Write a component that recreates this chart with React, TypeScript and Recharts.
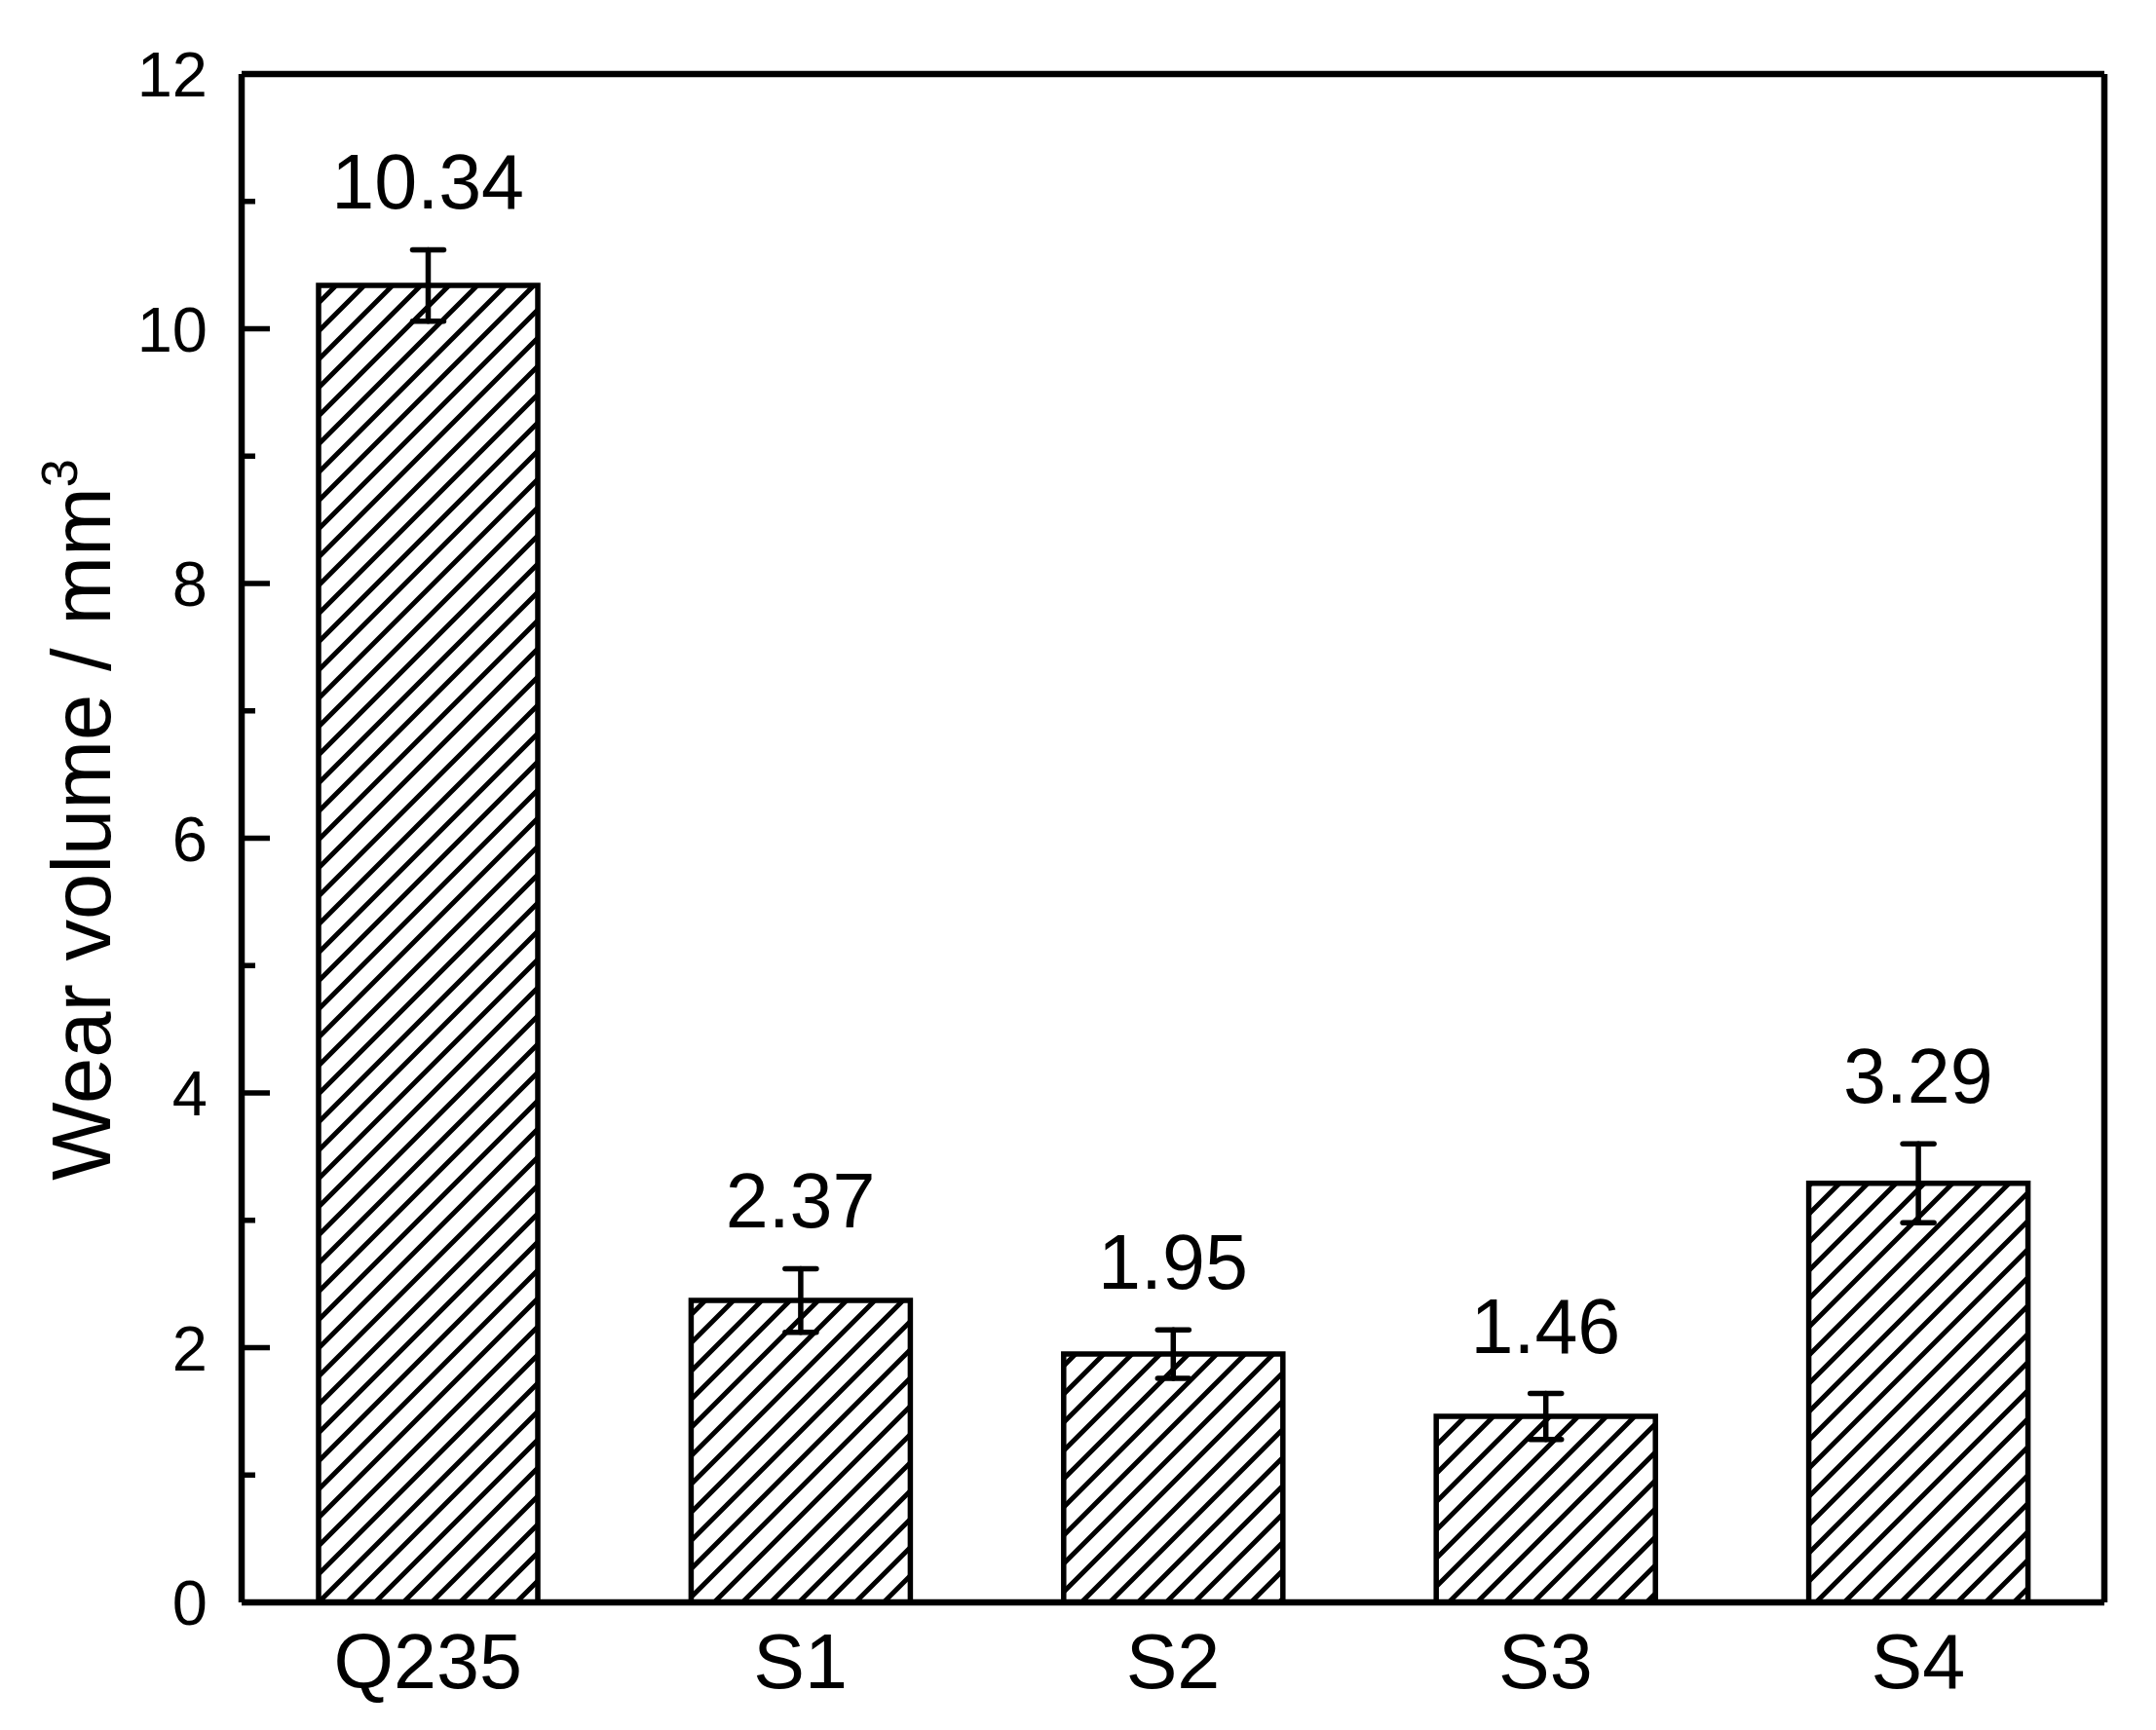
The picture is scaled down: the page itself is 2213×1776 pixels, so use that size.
import React from 'react';
import { ComposedChart, Bar, Line, XAxis, YAxis, ErrorBar, LabelList, Label } from 'recharts';

// wear test results
const samples = ['Q235', 'S1', 'S2', 'S3', 'S4'];
const wearVolume = [10.34, 2.37, 1.95, 1.46, 3.29];
const wearError = [0.28, 0.25, 0.19, 0.18, 0.31];
const yTicks = [0, 1, 2, 3, 4, 5, 6, 7, 8, 9, 10, 11, 12];

const data = samples.map((name, i) => ({
  name,
  value: wearVolume[i],
  err: wearError[i],
  top: wearVolume[i] + wearError[i],
}));

const FONT = '"Liberation Sans", Arial, sans-serif';
const AXIS = { stroke: '#000', strokeWidth: 6.5 };

const YTick = (props: any) => {
  const { x, y, payload } = props;
  const major = payload.value % 2 === 0;
  return (
    <g>
      <line x1={x} x2={x + (major ? 29 : 14)} y1={y} y2={y} stroke="#000" strokeWidth={5.5} />
      {major && (
        <text x={x - 35} y={y} dy="0.36em" textAnchor="end" fontFamily={FONT} fontSize={65} fill="#000">
          {payload.value}
        </text>
      )}
    </g>
  );
};

const XTick = (props: any) => {
  const { x, y, payload } = props;
  return (
    <text x={x} y={y + 88} textAnchor="middle" fontFamily={FONT} fontSize={79} fill="#000">
      {payload.value}
    </text>
  );
};

const ValueLabel = (props: any) => {
  const { x, y, value } = props;
  return (
    <text x={x} y={y - 42} textAnchor="middle" fontFamily={FONT} fontSize={79} fill="#000">
      {Number(value).toFixed(2)}
    </text>
  );
};

const YTitle = (props: any) => {
  const vb = props.viewBox;
  const cy = vb.y + vb.height / 2 - 19;
  const cx = 113;
  return (
    <text x={cx} y={cy} textAnchor="middle" transform={`rotate(-90 ${cx} ${cy})`} fontFamily={FONT} fontSize={85} fill="#000">
      Wear volume / mm<tspan fontSize={52} dy={-34}>3</tspan>
    </text>
  );
};

export default function App() {
  return (
    <div style={{ position: 'absolute', left: 0, top: 0, width: 2213, height: 1776, background: '#fff' }}>
      <svg width={0} height={0} style={{ position: 'absolute' }}>
        <defs>
          <pattern id="hatch" patternUnits="userSpaceOnUse" width={29} height={29}>
            <path d="M-6,6 L6,-6 M0,29 L29,0 M23,35 L35,23" stroke="#000" strokeWidth={5} />
          </pattern>
        </defs>
      </svg>
      <ComposedChart
        width={2213}
        height={1776}
        data={data}
        margin={{ top: 75, right: 52, bottom: 31, left: 88 }}
      >
        <XAxis
          dataKey="name"
          height={100}
          axisLine={AXIS}
          tickLine={false}
          tickSize={0}
          tickMargin={0}
          tick={<XTick />}
          interval={0}
        />
        <XAxis
          xAxisId="top"
          dataKey="name"
          orientation="top"
          height={1}
          axisLine={AXIS}
          tickLine={false}
          tick={false}
        />
        <YAxis
          width={160}
          domain={[0, 12]}
          ticks={yTicks}
          interval={0}
          axisLine={AXIS}
          tickLine={false}
          tickSize={0}
          tickMargin={0}
          tick={<YTick />}
        >
          <Label content={<YTitle />} />
        </YAxis>
        <YAxis
          yAxisId="right"
          orientation="right"
          width={1}
          domain={[0, 12]}
          axisLine={AXIS}
          tickLine={false}
          tick={false}
        />
        <Bar dataKey="value" barSize={225} fill="url(#hatch)" stroke="#000" strokeWidth={5.5} isAnimationActive={false}>
          <ErrorBar dataKey="err" direction="y" width={16} stroke="#000" strokeWidth={5.5} strokeLinecap="round" />
        </Bar>
        <Line dataKey="top" stroke="none" dot={false} activeDot={false} legendType="none" isAnimationActive={false}>
          <LabelList dataKey="value" content={<ValueLabel />} />
        </Line>
      </ComposedChart>
    </div>
  );
}
